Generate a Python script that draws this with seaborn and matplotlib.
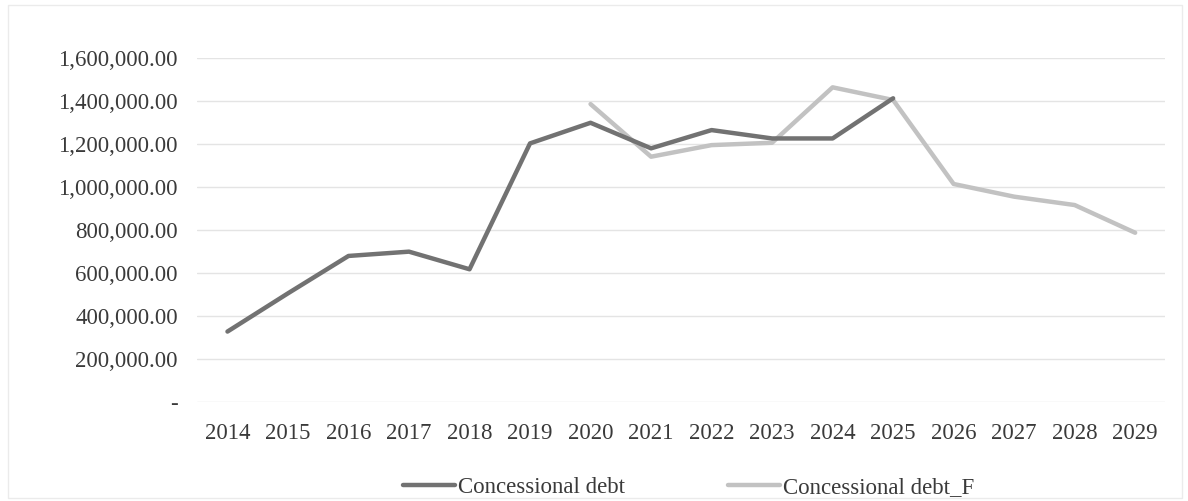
import matplotlib
matplotlib.use("Agg")
import matplotlib.pyplot as plt
import seaborn as sns
import pandas as pd
from matplotlib.lines import Line2D
from matplotlib.patches import Rectangle
from matplotlib.ticker import FuncFormatter

years = list(range(2014, 2030))
debt = [327000, 505000, 679000, 699000, 617000, 1203000, 1299000, 1180000,
        1265000, 1226000, 1226000, 1413000]
debt_f_years = list(range(2020, 2030))
debt_f = [1386000, 1141000, 1195000, 1206000, 1464000, 1405000, 1014000,
          955000, 916000, 787000]

dark_col = "#727272"
light_col = "#c2c2c2"
text_col = "#3a3a3a"
fs = 16.5

sns.set_theme(style="white")
plt.rcParams["font.family"] = ["Liberation Serif", "DejaVu Serif"]

df_a = pd.DataFrame({"idx": [years.index(y) for y in years[:len(debt)]],
                     "value": debt})
df_b = pd.DataFrame({"idx": [years.index(y) for y in debt_f_years],
                     "value": debt_f})

fig = plt.figure(figsize=(11.88, 5.01), dpi=100)
ax = fig.add_axes([0.166, 0.198, 0.815, 0.686])

sns.lineplot(data=df_a, x="idx", y="value", ax=ax, color=dark_col, lw=3.2,
             solid_capstyle="round", zorder=3)
sns.lineplot(data=df_b, x="idx", y="value", ax=ax, color=light_col, lw=3.2,
             solid_capstyle="round", zorder=2)

ax.set_xlim(-0.5, len(years) - 0.5)
ax.set_ylim(0, 1600000)
ax.set_yticks(range(0, 1600001, 200000))
ax.yaxis.set_major_formatter(
    FuncFormatter(lambda v, p: "-" if v == 0 else f"{v:,.2f}"))
ax.set_xticks(range(len(years)))
ax.set_xticklabels([str(y) for y in years])
ax.tick_params(axis="both", length=0, labelsize=fs, colors=text_col)
ax.tick_params(axis="y", pad=14)
ax.tick_params(axis="x", pad=15)
ax.grid(axis="y", color="#e4e4e4", lw=1.0)
ax.grid(axis="x", visible=False)
for s in ax.spines.values():
    s.set_visible(False)
ax.set_xlabel("")
ax.set_ylabel("")

handles = [Line2D([0], [0], color=dark_col, lw=3.2),
           Line2D([0], [0], color=light_col, lw=3.2)]
fig.legend(handles, ["Concessional debt", "Concessional debt_F"],
           loc="center", bbox_to_anchor=(0.58, 0.027), ncol=2, frameon=False,
           fontsize=fs, handlelength=2.27, handletextpad=0.13,
           columnspacing=4.5, labelcolor=text_col)

fig.patches.append(Rectangle((0.007, 0.006), 0.988, 0.984, transform=fig.transFigure,
                             fill=False, edgecolor="#ebebeb", lw=1.0))

fig.savefig("out.png", dpi=100, facecolor="white")
